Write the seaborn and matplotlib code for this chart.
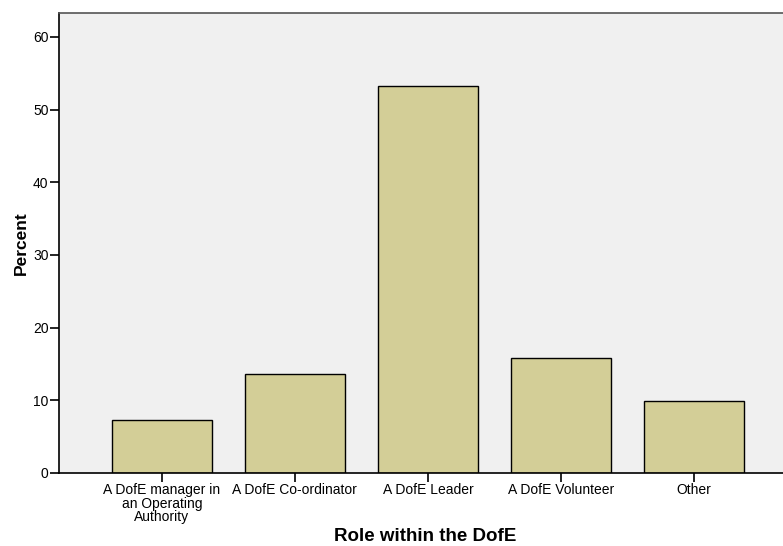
import matplotlib
matplotlib.use("Agg")
import matplotlib.pyplot as plt
import seaborn as sns
import pandas as pd

categories = ["A DofE manager in\nan Operating\nAuthority", "A DofE Co-ordinator",
              "A DofE Leader", "A DofE Volunteer", "Other"]
percent = [7.3, 13.6, 53.3, 15.8, 9.9]
yticks = [0, 10, 20, 30, 40, 50, 60]

sns.set_theme(style="white")
plt.rcParams['font.family'] = ['Liberation Sans', 'DejaVu Sans']

df = pd.DataFrame({"role": categories, "pct": percent})

fig = plt.figure(figsize=(7.83, 5.46), dpi=100)
ax = fig.add_axes([59/783, 73/546, 724/783, 460/546])
ax.set_facecolor("#F0F0F0")
sns.barplot(data=df, x="role", y="pct", ax=ax, color="#D3CE97", saturation=1,
            width=0.75, edgecolor="black", linewidth=1.0)
ax.set_xlim(-0.774, 4.67)
ax.set_ylim(0, 63.3)
ax.set_yticks(yticks)
ax.tick_params(axis="both", which="both", direction="out", length=6.5, width=1.2,
               color="black", labelsize=10, labelcolor="black", pad=1, left=True, bottom=True)
for s in ["left", "bottom", "top"]:
    ax.spines[s].set_visible(True)
    ax.spines[s].set_color("black")
    ax.spines[s].set_linewidth(1.2)
ax.spines["top"].set_color("#555555")
ax.spines["right"].set_visible(False)
for lab in ax.get_xticklabels():
    lab.set_linespacing(0.95)
ax.set_xlabel("Role within the DofE", fontsize=13.5, fontweight="bold", va="center", color="black")
ax.xaxis.set_label_coords(0.506, -0.137)
ax.set_ylabel("Percent", fontsize=12.5, fontweight="bold", labelpad=3, color="black")
fig.savefig("out.png", dpi=100)
